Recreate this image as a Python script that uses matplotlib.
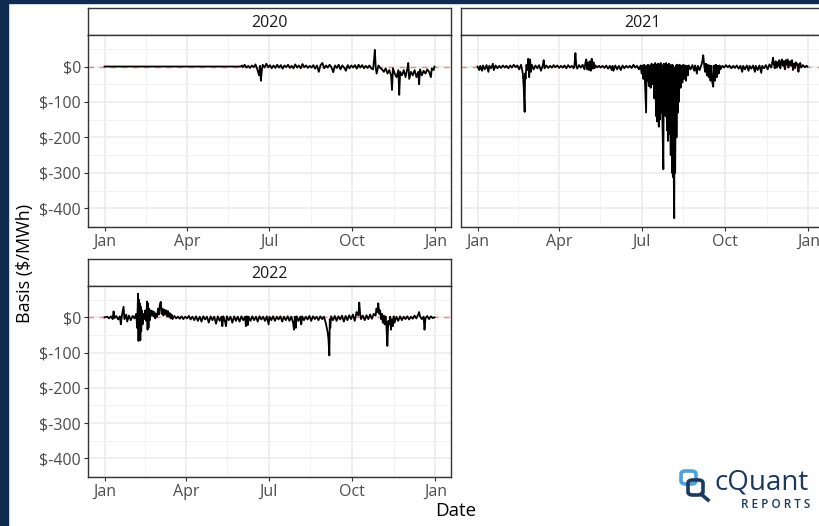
import numpy as np
import matplotlib.pyplot as plt
import matplotlib.dates as mdates
from matplotlib.patches import Rectangle, FancyBboxPatch
from matplotlib.lines import Line2D
from datetime import datetime

plt.rcParams['font.family'] = ['Open Sans', 'DejaVu Sans']

# basis series (day of year, $/MWh)
days_2020 = [0, 151, 152, 153, 155, 157, 159, 161, 163, 165, 167, 169, 171, 172, 173, 174, 175, 177, 179,
             181, 183, 185, 187, 189, 191, 193, 195, 197, 199, 201, 203, 205, 207, 209, 211, 213, 215, 217,
             219, 221, 223, 225, 227, 229, 231, 233, 235, 237, 239, 241, 243, 245, 247, 249, 251, 253, 255,
             257, 259, 261, 263, 265, 267, 269, 271, 273, 275, 277, 279, 281, 283, 285, 287, 289, 291, 293,
             295, 297, 298, 299, 300, 301, 303, 305, 307, 309, 311, 313, 315, 317, 318, 319, 321, 323, 325,
             326, 327, 329, 331, 333, 335, 336, 337, 339, 341, 343, 345, 347, 348, 349, 351, 353, 355, 357,
             359, 361, 362, 364, 365]
vals_2020 = [0, 0, 3, -2, 5, -3, 2, -4, 3, -2, 6, -8, -25, 2, -40, -10, 5, -3, 8,
             -2, 4, -5, 3, -4, 5, -3, 4, -6, 3, -2, 5, -4, 2, -5, 6, -3, 3, -5,
             7, -2, 3, -4, 2, -3, 4, -6, 3, -15, 4, 10, -5, 3, -3, 5, -2, -16, 3,
             -4, 5, -8, 3, -3, -12, 4, -5, 3, -3, 4, -6, 5, -3, 4, -5, 2, -4, 3,
             -5, -8, 15, 47, -3, -20, 3, -4, -8, -15, -5, -20, -10, -25, -66, -5, -20, -30, -10,
             -80, -15, -25, -10, -30, -5, 10, -35, -15, -25, -10, -30, -15, -50, -8, -25, -12, -20, -8,
             -15, -30, -5, -10, 0]

days_2021 = [0, 2, 3, 5, 6, 8, 10, 12, 13, 15, 17, 18, 20, 22, 24, 26, 28, 30, 32, 34, 36, 38, 40, 42, 44,
             46, 48, 50, 51, 52, 52.5, 53, 54, 55, 56, 57, 58, 59, 60, 62, 64, 66, 68, 70, 72, 73, 74, 76,
             78, 80, 82, 84, 86, 88, 90, 92, 94, 96, 98, 100, 102, 104, 106, 107, 108, 109, 110, 112, 114,
             116, 118, 119, 120, 121, 122, 123, 124, 125, 126, 127, 128, 129, 130, 132, 134, 136, 138, 140,
             142, 144, 146, 148, 149, 150, 152, 154, 156, 158, 160, 162, 164, 166, 168, 170, 172, 174, 176,
             178, 180, 181, 182, 183, 184, 185, 186, 186.5, 187, 188, 189, 190, 191, 192, 193, 194, 195, 196,
             197, 197.5, 198, 199, 199.5, 200, 200.5, 201, 202, 202.5, 203, 204, 205, 205.5, 206, 207, 207.5,
             208, 209, 209.5, 210, 211, 211.5, 212, 213, 214, 214.5, 215, 215.5, 216, 216.5, 217, 217.5, 218,
             219, 219.5, 220, 221, 221.5, 222, 223, 224, 225, 226, 227, 228, 229, 230, 231, 232, 233, 235,
             237, 239, 240, 242, 243, 245, 247, 248, 249, 250, 251, 252, 253, 254, 255, 256, 257, 258, 259,
             260, 261, 262, 263, 264, 265, 266, 267, 268, 270, 272, 274, 276, 278, 280, 282, 284, 286, 288,
             290, 292, 293, 295, 297, 299, 300, 302, 304, 306, 307, 309, 311, 313, 314, 316, 318, 320, 322,
             324, 325, 326, 327, 328, 329, 330, 331, 332, 333, 334, 335, 336, 337, 338, 339, 340, 341, 342,
             343, 344, 345, 346, 347, 348, 349, 350, 351, 352, 353, 354, 355, 356, 357, 359, 361, 363, 364]
vals_2021 = [0, -10, 2, -12, 3, -8, 4, -15, 2, -5, 8, -10, 3, -5, 2, -4, 3, -3, 2, -5, 3, -3, 5, -2, 3,
             -8, 5, -20, -60, -128, -20, -35, 5, -10, 22, -30, 20, -15, 5, -8, 3, -5, 4, -12, 3, 18, -5, 3,
             -4, 2, -3, 4, -2, 3, -4, 2, -3, 3, -5, 4, -3, 2, -5, 5, 38, 2, -6, 4, -3,
             5, -8, 10, 20, -8, 12, -10, 15, -12, 22, -6, 12, -5, 3, -2, 2, -3, 2, -4,
             3, -6, 2, -10, 2, -12, 3, -8, 2, -10, 3, -5, 2, -3, 2, -4, 5, -3, 2,
             -8, 3, -20, 3, -35, 5, -60, -130, 2, -40, 5, -55, 3, -60, 8, -50, 5, -90, 10,
             -140, 5, -155, 8, -120, -170, 5, -150, 10, -130, 5, -160, -290, 8, -110, 5, -140,
             10, -180, 5, -210, 8, -190, 5, -250, 3, -300, 5, -312, 0, -310, -428, -5, -300,
             3, -200, 5, -130, 3, -100, 5, -60, 2, -45, 5, -35, 3, -40, 2, -25, 3, -8,
             4, -12, 3, -20, 2, -10, 5, 15, 32, 5, -15, 8, -25, 5, -30, 3, -40, 2, -45,
             -57, 3, -40, 5, -30, 2, -20, 3, -8, 2, -3, 4, -2, 3, -5, 2, -4, 3, -6,
             2, -15, 2, -8, 3, -12, 2, -6, 3, -15, 2, -10, 3, -18, 2, -5, 4, -8, 6,
             -3, 10, 25, 5, -5, 15, -3, 12, 2, 18, -5, 10, 20, 2, 15, -8, 18, 5, 20,
             -3, 12, 15, 2, 18, -10, 8, -5, 12, 3, 8, -15, 5, 10, -3, 4, -2, 2, 0]

days_2022 = [0, 3, 5, 7, 9, 10, 11, 13, 15, 17, 18, 19, 21, 22, 24, 25, 27, 29, 31, 33, 35, 36, 37, 37.5,
             38, 38.5, 39, 39.5, 40, 40.5, 41, 42, 43, 44, 45, 46, 47, 47.5, 48, 48.5, 49, 50, 51, 52, 53,
             54, 55, 56, 57, 58, 59, 60, 61, 62, 63, 64, 65, 66, 67, 68, 69, 70, 71, 72, 73, 74, 75, 77,
             79, 81, 83, 85, 87, 89, 91, 93, 95, 97, 99, 101, 103, 105, 107, 109, 111, 113, 115, 117, 119,
             121, 123, 125, 127, 129, 130, 131, 133, 134, 135, 137, 139, 141, 143, 145, 147, 149, 151, 153,
             155, 156, 157, 158, 159, 161, 163, 165, 167, 169, 171, 173, 175, 177, 179, 181, 182, 184, 186,
             188, 190, 192, 194, 196, 198, 200, 202, 204, 206, 208, 209, 210, 211, 212, 214, 216, 217, 218,
             220, 222, 224, 226, 228, 230, 232, 234, 236, 238, 240, 242, 244, 246, 247, 248, 248.5, 249, 250,
             252, 254, 256, 258, 260, 262, 264, 266, 268, 270, 272, 274, 276, 278, 280, 281, 282, 283, 285,
             287, 289, 291, 293, 295, 297, 299, 300, 301, 302, 303, 304, 305, 306, 307, 308, 309, 310, 311,
             312, 313, 314, 315, 316, 317, 318, 319, 320, 322, 324, 326, 328, 330, 332, 334, 336, 338, 340,
             342, 344, 346, 347, 348, 350, 352, 353, 354, 356, 358, 360, 362, 364]
vals_2022 = [0, 2, -3, 3, -5, 17, -2, 4, -6, 3, -20, 2, 30, -5, 8, -12, 5, -8, 4, -3, 10, -30, 67, -67,
             50, -60, 40, -65, 30, -40, 20, -20, 10, -5, 20, -10, 45, -35, 40, -30, 25, -8, 20, 5, 18,
             3, 15, -3, 10, 2, 25, 8, 35, 44, 10, 25, 5, 22, 8, 20, 3, 18, 2, 12, -3, 8, -5, 4,
             -3, 2, -4, 3, -5, 2, -3, 4, -6, 2, -8, 3, -10, 2, -12, 3, -6, 2, -15, 3, -8,
             2, -18, 3, -10, 2, -25, 3, -12, -25, 3, -8, 2, -15, 3, -10, 2, -12, 3, -8,
             2, -25, 3, -22, 2, -10, 3, -8, 2, -12, 3, -6, 2, -10, 3, -20, 2, -8, 3,
             -10, 2, -6, 3, -12, 2, -8, 3, -10, 2, -15, -35, 2, -30, 3, -10, 2, -20, 3,
             -8, 2, -6, 4, -10, 3, -5, 2, -8, 3, -5, 2, -15, -40, -60, -108, -5, -30, 3,
             -8, 4, -10, 3, -6, 5, -12, 4, -8, 6, -5, 8, -10, 15, 5, 42, 10, -5, 5,
             -8, 6, -5, 8, -4, 10, 5, 25, 15, 40, 10, 20, -5, 10, -15, 5, -20, 3, -25,
             -81, -10, -20, 2, -35, -5, -25, 3, -15, 2, -10, 3, -8, 2, -5, 3, -6, 2, -4,
             5, -3, 8, 15, 3, -5, 2, -35, -3, 4, -5, 3, -2, 0]

years = [2020, 2021, 2022]
series = {2020: (days_2020, vals_2020), 2021: (days_2021, vals_2021), 2022: (days_2022, vals_2022)}
month_labels = ['Jan', 'Apr', 'Jul', 'Oct', 'Jan']
y_major = [0, -100, -200, -300, -400]
y_minor = [50, -50, -150, -250, -350, -450]
y_labels = ['$0', '$-100', '$-200', '$-300', '$-400']

W, H = 819, 526
navy = '#0f2b50'

def box(x0, y0, x1, y1):
    return [x0 / W, 1 - y1 / H, (x1 - x0) / W, (y1 - y0) / H]

fig = plt.figure(figsize=(W / 100, H / 100), dpi=100)
fig.patch.set_facecolor('white')
fig.patches.append(Rectangle((0, 0), 8 / W, 1, transform=fig.transFigure, color=navy, zorder=0))
fig.patches.append(Rectangle((0, 1 - 3 / H), 1, 3 / H, transform=fig.transFigure, color=navy, zorder=0))

# panel pixel boxes (left, top, right, bottom)
panel_px = {2020: (88, 35, 451, 227), 2021: (461, 35, 824, 227), 2022: (88, 286, 451, 477)}

for year in years:
    x0, y0, x1, y1 = panel_px[year]
    d, v = series[year]
    base = mdates.date2num(datetime(year, 1, 1))
    end = mdates.date2num(datetime(year + 1, 1, 1))
    xs = base + np.array(d, dtype=float)
    span = xs.max() - xs.min()

    strip = fig.add_axes(box(x0, y0 - 27, x1, y0))
    strip.set_xticks([]); strip.set_yticks([])
    for s in strip.spines.values():
        s.set_color('#333333'); s.set_linewidth(1.0)
    strip.text(0.5, 0.45, str(year), ha='center', va='center', fontsize=11.5, color='#1a1a1a',
               transform=strip.transAxes)

    ax = fig.add_axes(box(x0, y0, x1, y1))
    ax.axhline(0, color='#f08888', lw=1.0, ls=(0, (4, 4)), zorder=1)
    ax.plot(xs, v, color='black', lw=1.3, zorder=3)
    ax.set_xlim(xs.min() - 0.05 * span, xs.max() + 0.05 * span)
    ax.set_ylim(-453, 89)

    majors = [mdates.date2num(datetime(year, m, 1)) for m in (1, 4, 7, 10)] + [end]
    ax.set_xticks(majors)
    ax.set_xticklabels(month_labels)
    ax.set_xticks([(a + b) / 2 for a, b in zip(majors[:-1], majors[1:])], minor=True)
    ax.set_yticks(y_major)
    ax.set_yticks(y_minor, minor=True)
    if year == 2021:
        ax.tick_params(axis='y', left=False, labelleft=False)
    else:
        ax.set_yticklabels(y_labels)
    ax.tick_params(which='major', length=3, width=0.8, color='#333333', labelcolor='#4d4d4d',
                   labelsize=11.5, pad=2)
    ax.tick_params(which='minor', length=0)
    ax.grid(which='major', color='#ebebeb', lw=1.1)
    ax.grid(which='minor', color='#f2f2f2', lw=0.7)
    ax.set_axisbelow(True)
    for s in ax.spines.values():
        s.set_color('#333333'); s.set_linewidth(1.0)

fig.text(25 / W, 1 - 263 / H, 'Basis ($/MWh)', rotation=90, ha='center', va='center',
         fontsize=13, color='black')
fig.text(456 / W, 1 - 511 / H, 'Date', ha='center', va='center', fontsize=13.5, color='black')

# cQuant logo
fig.patches.append(FancyBboxPatch((681 / W, 1 - 484 / H), 15 / W, 13 / H, boxstyle='round,pad=0,rounding_size=0.006',
                                  transform=fig.transFigure, fill=False, ec='#4aa3df', lw=2.6))
fig.patches.append(FancyBboxPatch((688 / W, 1 - 495 / H), 15 / W, 15 / H, boxstyle='round,pad=0,rounding_size=0.006',
                                  transform=fig.transFigure, fill=False, ec='#1c3a5e', lw=2.6))
fig.lines.append(Line2D([701 / W, 708 / W], [1 - 494 / H, 1 - 500 / H], transform=fig.transFigure,
                        color='#1c3a5e', lw=2.6))
fig.text(715 / W, 1 - 482 / H, 'cQuant', ha='left', va='center', fontsize=20, color='#1c3a5e')
fig.text(810 / W, 1 - 505 / H, 'R E P O R T S', ha='right', va='center', fontsize=8.5, color='#1c3a5e',
         fontweight='semibold')

fig.savefig('out.png', dpi=100)
